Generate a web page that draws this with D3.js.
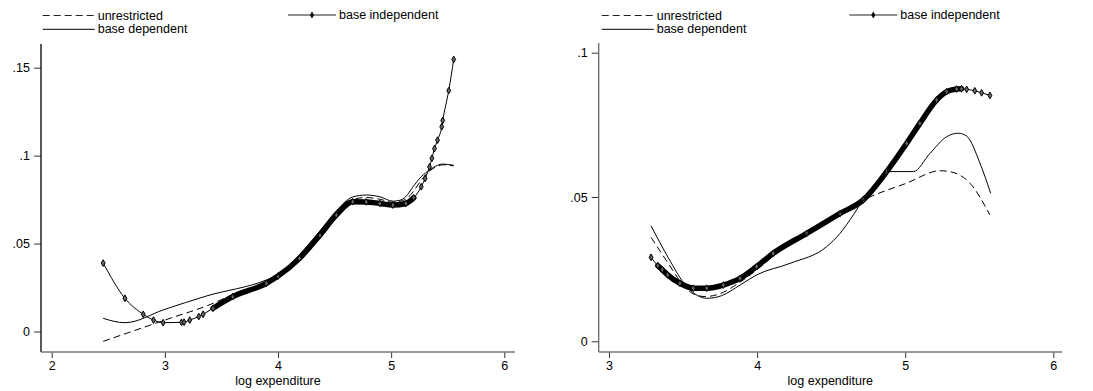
<!DOCTYPE html>
<html>
<head>
<meta charset="utf-8">
<script src="https://cdn.jsdelivr.net/npm/d3@7"></script>
<style>
  body { margin: 0; background: #fff; }
  svg text { font-family: "Liberation Sans", Arial, sans-serif; font-size: 12.5px; fill: #000; }
</style>
</head>
<body>
<svg id="chart" width="1093" height="391"></svg>
<script>
/* series names, shared by both panels */
var seriesNames = ['unrestricted', 'base dependent', 'base independent'];
var xTitle = 'log expenditure';

/* left panel */
var leftIndepX = [2.455, 2.647, 2.809, 2.90, 2.985, 3.147, 3.17, 3.22, 3.30, 3.338, 3.426, 3.60, 3.897, 4.0, 4.19, 4.37, 4.515, 4.66, 4.78, 4.9, 5.015, 5.13, 5.2, 5.266, 5.30, 5.339, 5.36, 5.383, 5.41, 5.447, 5.456, 5.509, 5.553];
var leftIndepY = [0.0389, 0.0189, 0.0098, 0.0065, 0.0050, 0.0052, 0.0053, 0.0065, 0.0085, 0.0098, 0.0132, 0.0198, 0.0274, 0.0315, 0.0416, 0.0548, 0.0662, 0.0738, 0.0737, 0.0728, 0.0719, 0.0728, 0.0760, 0.0823, 0.0870, 0.0936, 0.0985, 0.1040, 0.1088, 0.1164, 0.1200, 0.1370, 0.1547];
var leftUnrX   = [2.455, 3.0, 3.426, 3.6, 3.897, 4.0, 4.19, 4.37, 4.515, 4.66, 4.78, 4.9, 5.015, 5.13, 5.2, 5.266, 5.339, 5.41, 5.456, 5.553];
var leftUnrY   = [-0.0056, 0.0065, 0.0160, 0.0210, 0.0280, 0.0320, 0.0430, 0.0560, 0.0670, 0.0750, 0.0762, 0.0752, 0.0735, 0.0752, 0.0800, 0.0860, 0.0912, 0.0940, 0.0948, 0.0942];
var leftDepX   = [2.455, 2.647, 3.0, 3.368, 3.897, 4.0, 4.19, 4.37, 4.515, 4.66, 4.78, 4.9, 5.015, 5.07, 5.13, 5.19, 5.266, 5.339, 5.41, 5.456, 5.553];
var leftDepY   = [0.0075, 0.0050, 0.0126, 0.0202, 0.0293, 0.0322, 0.0438, 0.0572, 0.0686, 0.0765, 0.0776, 0.0766, 0.0741, 0.0745, 0.0767, 0.0820, 0.0880, 0.0918, 0.0945, 0.0952, 0.0945];
var leftDense  = [3.4, 5.25];
var leftXTicks = [2, 3, 4, 5, 6];
var leftYTicks = [0, 0.05, 0.1, 0.15];
var leftYLabels = ['0', '.05', '.1', '.15'];

/* right panel */
var rightIndepX = [3.284, 3.33, 3.36, 3.396, 3.479, 3.569, 3.66, 3.772, 3.885, 3.997, 4.109, 4.335, 4.56, 4.717, 4.875, 5.01, 5.099, 5.212, 5.28, 5.347, 5.38, 5.415, 5.47, 5.516, 5.572];
var rightIndepY = [0.0291, 0.0262, 0.0248, 0.0230, 0.0201, 0.0184, 0.0184, 0.0195, 0.0218, 0.0259, 0.0305, 0.0374, 0.0443, 0.0490, 0.0588, 0.0686, 0.0755, 0.0836, 0.0865, 0.0874, 0.0875, 0.0873, 0.0868, 0.0861, 0.0852];
var rightUnrX   = [3.284, 3.40, 3.50, 3.568, 3.648, 3.75, 3.885, 3.997, 4.109, 4.335, 4.56, 4.74, 5.01, 5.235, 5.30, 5.437, 5.572];
var rightUnrY   = [0.0360, 0.0270, 0.0195, 0.0165, 0.0155, 0.0165, 0.0205, 0.0247, 0.0295, 0.0372, 0.0445, 0.0495, 0.0548, 0.0591, 0.0588, 0.0548, 0.0438];
var rightDepX   = [3.284, 3.40, 3.525, 3.60, 3.66, 3.76, 3.885, 3.997, 4.222, 4.47, 4.56, 4.65, 4.717, 4.785, 4.875, 4.965, 5.055, 5.167, 5.28, 5.359, 5.415, 5.505, 5.577];
var rightDepY   = [0.0400, 0.0290, 0.0189, 0.0158, 0.0149, 0.0158, 0.0195, 0.0230, 0.0270, 0.0328, 0.0374, 0.0438, 0.0490, 0.0524, 0.0588, 0.0588, 0.0588, 0.0651, 0.0709, 0.0721, 0.0711, 0.0617, 0.0513];
var rightDense  = [3.33, 5.38];
var rightXTicks = [3, 4, 5, 6];
var rightYTicks = [0, 0.05, 0.1];
var rightYLabels = ['0', '.05', '.1'];

function zip(xs, ys) {
  return xs.map(function (x, i) { return [x, ys[i]]; });
}

var svg = d3.select('#chart');

var panels = [
  { xTicks: leftXTicks, yTicks: leftYTicks, yLabels: leftYLabels,
    xDom: [2, 6], xRange: [51.7, 504.3], yDom: [0, 0.15], yRange: [331.5, 67.7],
    left: 41, right: 515, top: 44, bottom: 352, yAxisColor: '#000',
    unr: zip(leftUnrX, leftUnrY), dep: zip(leftDepX, leftDepY), indep: zip(leftIndepX, leftIndepY),
    dense: leftDense, legendX: 42.7, legendX2: 288 },
  { xTicks: rightXTicks, yTicks: rightYTicks, yLabels: rightYLabels,
    xDom: [3, 6], xRange: [609, 1053.3], yDom: [0, 0.1], yRange: [341.3, 52.7],
    left: 598.7, right: 1062, top: 43, bottom: 352, yAxisColor: '#666',
    unr: zip(rightUnrX, rightUnrY), dep: zip(rightDepX, rightDepY), indep: zip(rightIndepX, rightIndepY),
    dense: rightDense, legendX: 601.7, legendX2: 849.3 }
];

panels.forEach(function (p) {
  var x = d3.scaleLinear().domain(p.xDom).range(p.xRange),
      y = d3.scaleLinear().domain(p.yDom).range(p.yRange);

  var g = svg.append('g');

  /* y axis */
  var yAxis = g.append('g')
    .attr('transform', 'translate(' + p.left + ',0)')
    .call(d3.axisLeft(y).tickValues(p.yTicks).tickSize(7).tickPadding(4)
      .tickFormat(function (d, i) { return p.yLabels[i]; }));
  yAxis.select('.domain').remove();
  yAxis.selectAll('line').attr('stroke', '#333');
  yAxis.selectAll('text').attr('font-size', null).attr('font-family', null);
  g.append('line')
    .attr('x1', p.left).attr('x2', p.left)
    .attr('y1', p.top).attr('y2', p.bottom)
    .attr('stroke', p.yAxisColor).attr('stroke-width', 1.3);

  /* x axis */
  var xAxis = g.append('g')
    .attr('transform', 'translate(0,' + p.bottom + ')')
    .call(d3.axisBottom(x).tickValues(p.xTicks).tickSize(6).tickPadding(3)
      .tickFormat(d3.format('d')));
  xAxis.select('.domain').remove();
  xAxis.selectAll('line').attr('stroke', '#333');
  xAxis.selectAll('text').attr('font-size', null).attr('font-family', null);
  g.append('line')
    .attr('x1', p.left).attr('x2', p.right)
    .attr('y1', p.bottom).attr('y2', p.bottom)
    .attr('stroke', '#777').attr('stroke-width', 1.6);

  g.append('text')
    .attr('x', (p.left + p.right) / 2)
    .attr('y', 385)
    .attr('text-anchor', 'middle')
    .text(xTitle);

  var line = d3.line()
    .x(function (d) { return x(d[0]); })
    .y(function (d) { return y(d[1]); })
    .curve(d3.curveMonotoneX);

  /* dense run of base independent markers, drawn as a heavy band */
  var dense = p.indep.filter(function (d) { return d[0] >= p.dense[0] && d[0] <= p.dense[1]; });
  g.append('path')
    .attr('d', line(dense))
    .attr('fill', 'none').attr('stroke', '#000')
    .attr('stroke-width', 5.5).attr('stroke-linecap', 'round');

  g.append('path')
    .attr('d', line(p.indep))
    .attr('fill', 'none').attr('stroke', '#000').attr('stroke-width', 1);

  g.selectAll('path.mk')
    .data(p.indep)
    .enter().append('path')
    .classed('mk', true)
    .attr('transform', function (d) { return 'translate(' + x(d[0]) + ',' + y(d[1]) + ')'; })
    .attr('d', d3.symbol().type(d3.symbolDiamond).size(13))
    .attr('fill', '#666').attr('stroke', '#000').attr('stroke-width', 1);

  g.append('path')
    .attr('d', line(p.unr))
    .attr('fill', 'none').attr('stroke', '#000').attr('stroke-width', 1)
    .attr('stroke-dasharray', '7,4');

  g.append('path')
    .attr('d', line(p.dep))
    .attr('fill', 'none').attr('stroke', '#000').attr('stroke-width', 1);

  /* legend */
  var lg = svg.append('g');
  lg.append('line')
    .attr('x1', p.legendX).attr('x2', p.legendX + 52)
    .attr('y1', 15.5).attr('y2', 15.5)
    .attr('stroke', '#222').attr('stroke-dasharray', '7,4');
  lg.append('text').attr('x', p.legendX + 55).attr('y', 19.8).text(seriesNames[0]);

  lg.append('line')
    .attr('x1', p.legendX).attr('x2', p.legendX + 52)
    .attr('y1', 29.3).attr('y2', 29.3)
    .attr('stroke', '#000');
  lg.append('text').attr('x', p.legendX + 55).attr('y', 32.5).text(seriesNames[1]);

  lg.append('line')
    .attr('x1', p.legendX2).attr('x2', p.legendX2 + 48)
    .attr('y1', 15).attr('y2', 15)
    .attr('stroke', '#222');
  lg.append('path')
    .attr('transform', 'translate(' + (p.legendX2 + 24) + ',15)')
    .attr('d', d3.symbol().type(d3.symbolDiamond).size(14))
    .attr('fill', '#000');
  lg.append('text').attr('x', p.legendX2 + 51).attr('y', 19.3).text(seriesNames[2]);
});
</script>
</body>
</html>
